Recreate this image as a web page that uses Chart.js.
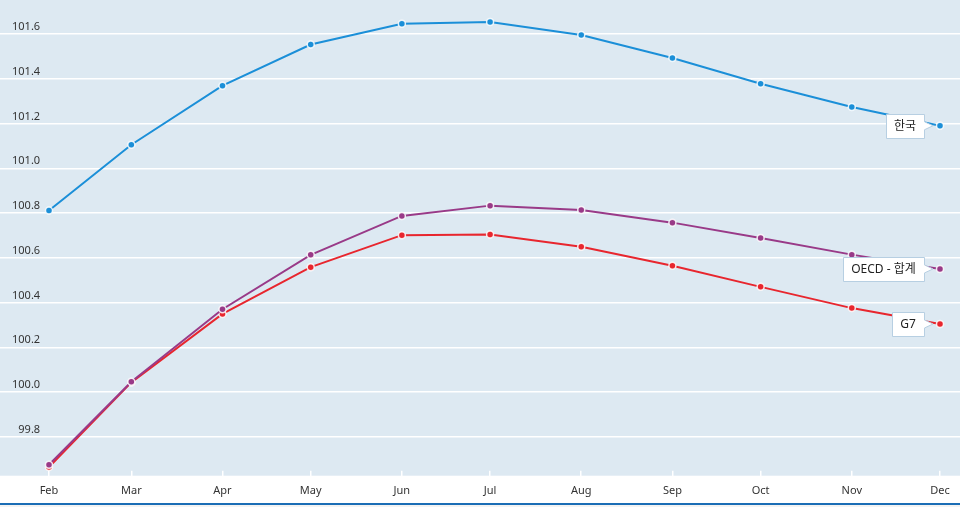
<!DOCTYPE html>
<html><head><meta charset="utf-8">
<script src="https://cdn.jsdelivr.net/npm/chart.js@4"></script>
<style>html,body{margin:0;padding:0;background:#fff}#wrap{width:960px;height:507px;position:relative}</style>
</head><body><div id="wrap"><canvas id="c"></canvas></div>
<script>
const YEAR = 2021;
const months = ['Feb','Mar','Apr','May','Jun','Jul','Aug','Sep','Oct','Nov','Dec'];
const monthIdx = [1,2,3,4,5,6,7,8,9,10,11];
const korea = [100.811,101.105,101.369,101.553,101.646,101.654,101.596,101.493,101.378,101.274,101.190];
const oecd  = [99.675,100.046,100.370,100.613,100.787,100.833,100.813,100.757,100.688,100.614,100.550];
const g7    = [99.665,100.043,100.349,100.558,100.701,100.704,100.649,100.564,100.470,100.375,100.304];
const yTicks = [99.8,100.0,100.2,100.4,100.6,100.8,101.0,101.2,101.4,101.6];
const seriesNames = ['한국','OECD - 합계','G7'];
const seriesColors = ['#1b8fd8','#993a88','#e8262e'];

function dayOf(m){ return (Date.UTC(YEAR,m,1)-Date.UTC(YEAR,0,1))/86400000; }
const xDays = monthIdx.map(dayOf);
function pts(arr){ return arr.map((v,i)=>({x:xDays[i], y:v})); }

const BG = '#dde9f2';
const bgPlugin = {
  id:'bg',
  beforeDraw(chart){
    const {ctx, chartArea:a, width, height} = chart;
    ctx.save();
    ctx.fillStyle = '#f3f3f3'; ctx.fillRect(0,0,width,height);
    ctx.fillStyle = '#ffffff'; ctx.fillRect(0,0,width,503);
    ctx.fillStyle = BG; ctx.fillRect(a.left,a.top,a.right-a.left,a.bottom-a.top);
    ctx.fillStyle = '#1b6db5'; ctx.fillRect(0,503,width,2);
    ctx.restore();
  }
};
const calloutPlugin = {
  id:'callout',
  afterDatasetsDraw(chart){
    const ctx = chart.ctx;
    ctx.save();
    ctx.font = '12px "Noto Sans", "Noto Sans CJK KR", sans-serif';
    chart.data.datasets.forEach((ds,di)=>{
      const meta = chart.getDatasetMeta(di);
      const p = meta.data[meta.data.length-1];
      const text = ds.label;
      const tw = ctx.measureText(text).width;
      const right = Math.round(p.x - 16), h = 24, w = Math.round(tw + 16);
      const left = right - w, top = Math.round(p.y - h/2);
      ctx.beginPath();
      ctx.moveTo(left+0.5, top+0.5);
      ctx.lineTo(right+0.5, top+0.5);
      ctx.lineTo(right+0.5, p.y-4);
      ctx.lineTo(p.x-7, p.y);
      ctx.lineTo(right+0.5, p.y+4);
      ctx.lineTo(right+0.5, top+h+0.5);
      ctx.lineTo(left+0.5, top+h+0.5);
      ctx.closePath();
      ctx.fillStyle = '#ffffff';
      ctx.fill();
      ctx.strokeStyle = '#b7cfe2';
      ctx.lineWidth = 1;
      ctx.stroke();
      ctx.fillStyle = '#222';
      ctx.textAlign = 'center';
      ctx.textBaseline = 'middle';
      ctx.fillText(text, left + w/2, p.y + 0.5);
    });
    ctx.restore();
  }
};

const datasets = [korea, oecd, g7].map((arr,i)=>({
  label: seriesNames[i],
  data: pts(arr),
  borderColor: seriesColors[i],
  backgroundColor: seriesColors[i],
  borderWidth: 2,
  pointRadius: 3.5,
  pointBorderWidth: 1.5,
  pointBorderColor: 'rgba(255,255,255,0.85)',
  pointBackgroundColor: seriesColors[i],
  tension: 0
}));

new Chart(document.getElementById('c'), {
  type: 'line',
  data: { datasets },
  options: {
    responsive: true, maintainAspectRatio: false, animation: false,
    layout: { padding: 0, autoPadding: false },
    plugins: { legend: {display:false}, tooltip: {enabled:false} },
    scales: {
      x: {
        type: 'linear', min: 14.34, max: 340.8,
        afterBuildTicks(s){ s.ticks = xDays.map(v=>({value:v})); },
        afterFit(s){ s.height = 31.3; s.paddingLeft = 0; s.paddingRight = 0; },
        grid: { display:true, drawOnChartArea:false, drawTicks:true, tickLength:-5, color:'#ffffff', lineWidth:1.5 },
        border: { display:false },
        ticks: { autoSkip:false, maxRotation:0, padding:14, color:'#333',
          font:{ family:'"Noto Sans", sans-serif', size:11 },
          callback:(v,i)=>months[i] }
      },
      y: {
        min: 99.626, max: 101.752,
        afterBuildTicks(s){ s.ticks = yTicks.map(v=>({value:v})); },
        afterFit(s){ s.width = 0; s.paddingTop = 0; s.paddingBottom = 0; },
        grid: { color:'#ffffff', lineWidth:1.5, drawTicks:false },
        border: { display:false },
        ticks: { mirror:true, crossAlign:'far', padding:12, labelOffset:-7, color:'#333',
          font:{ family:'"Noto Sans", sans-serif', size:11 },
          callback:(v)=>Number(v).toFixed(1) }
      }
    }
  },
  plugins: [bgPlugin, calloutPlugin]
});
</script></body></html>
